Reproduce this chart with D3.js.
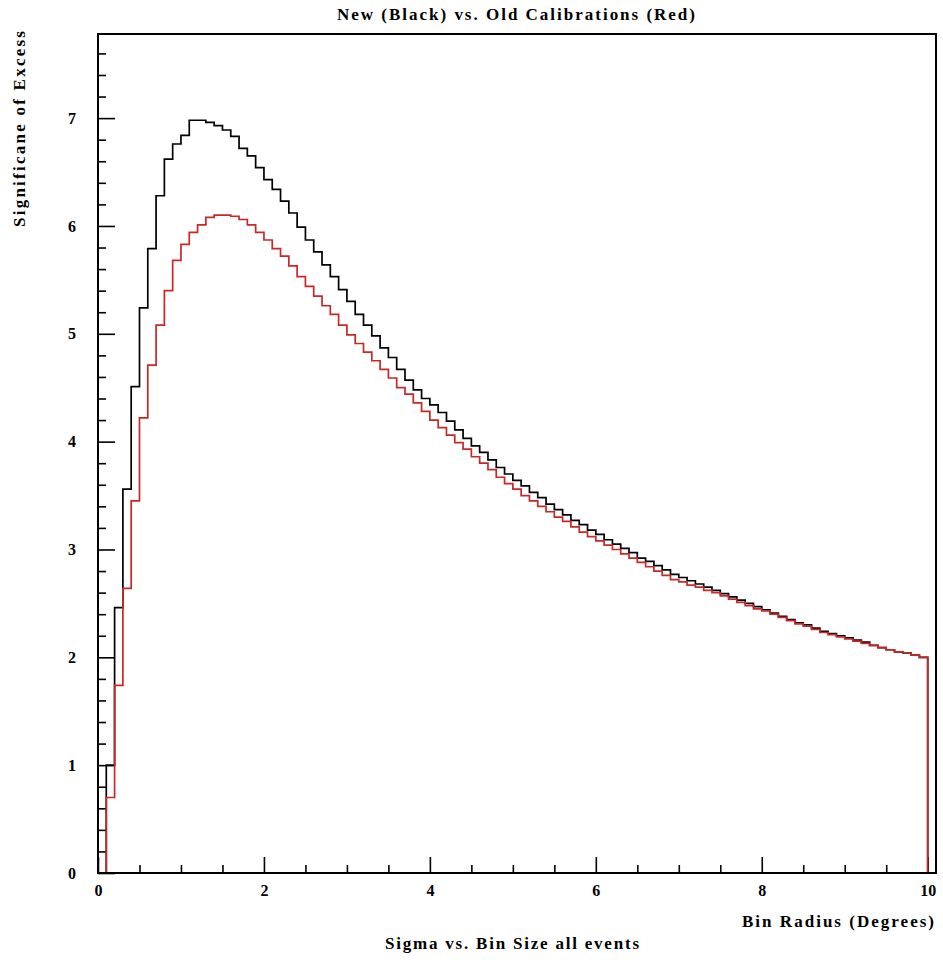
<!DOCTYPE html>
<html lang="en">
<head>
<meta charset="UTF-8">
<title>Sigma vs. Bin Size all events</title>
<script src="https://d3js.org/d3.v7.min.js"></script>
<style>
    body { margin: 0; background: #fff; }
    svg text { font-family: 'Liberation Serif', 'DejaVu Serif', serif; font-weight: bold; fill: #000; }
    .axis path { display: none; }
    .axis line { stroke: #000; stroke-width: 1.6; }
    .axis text { font-size: 16px; }
</style>
</head>
<body>
<div id="chart"></div>
<script>
    // histogram: 101 bins of 0.1 degrees from 0 to 10.1 (last bin empty)
    const binWidth = 0.1;

    // New calibration (black)
    const newCalib = [
        0, 1.00, 2.46, 3.56, 4.51, 5.24, 5.79, 6.28, 6.62, 6.76,
        6.84, 6.98, 6.98, 6.96, 6.93, 6.89, 6.83, 6.72, 6.65, 6.54,
        6.43, 6.34, 6.23, 6.12, 5.99, 5.87, 5.76, 5.64, 5.53, 5.41,
        5.30, 5.18, 5.08, 4.98, 4.87, 4.78, 4.67, 4.57, 4.48, 4.40,
        4.34, 4.27, 4.19, 4.11, 4.03, 3.96, 3.90, 3.83, 3.76, 3.70,
        3.64, 3.59, 3.53, 3.48, 3.42, 3.37, 3.32, 3.27, 3.23, 3.18,
        3.14, 3.09, 3.05, 3.01, 2.97, 2.92, 2.89, 2.85, 2.81, 2.77,
        2.74, 2.71, 2.68, 2.65, 2.62, 2.59, 2.56, 2.53, 2.50, 2.47,
        2.44, 2.41, 2.38, 2.35, 2.32, 2.30, 2.27, 2.24, 2.22, 2.20,
        2.18, 2.16, 2.14, 2.11, 2.09, 2.07, 2.05, 2.04, 2.02, 2.00,
        0
    ];

    // Old calibration (red)
    const oldCalib = [
        0, 0.70, 1.74, 2.64, 3.45, 4.22, 4.71, 5.08, 5.40, 5.68,
        5.83, 5.94, 6.01, 6.08, 6.10, 6.10, 6.09, 6.06, 6.01, 5.94,
        5.87, 5.79, 5.72, 5.63, 5.53, 5.44, 5.35, 5.26, 5.18, 5.08,
        4.99, 4.91, 4.83, 4.75, 4.67, 4.59, 4.50, 4.44, 4.36, 4.28,
        4.20, 4.13, 4.06, 3.99, 3.93, 3.86, 3.80, 3.74, 3.67, 3.61,
        3.56, 3.50, 3.45, 3.40, 3.35, 3.30, 3.26, 3.21, 3.16, 3.12,
        3.08, 3.04, 3.00, 2.96, 2.92, 2.88, 2.84, 2.80, 2.76, 2.72,
        2.70, 2.67, 2.65, 2.62, 2.60, 2.57, 2.54, 2.51, 2.48, 2.45,
        2.43, 2.40, 2.37, 2.34, 2.31, 2.29, 2.26, 2.23, 2.21, 2.19,
        2.17, 2.15, 2.13, 2.11, 2.09, 2.07, 2.05, 2.04, 2.02, 2.00,
        0
    ];

    const xMajorTicks = [0, 2, 4, 6, 8, 10];
    const xMinorTicks = [0.5, 1, 1.5, 2.5, 3, 3.5, 4.5, 5, 5.5, 6.5, 7, 7.5, 8.5, 9, 9.5];
    const yMajorTicks = [0, 1, 2, 3, 4, 5, 6, 7];
    const yMinorTicks = d3.range(0.2, 7.75, 0.2).filter(v => Math.abs(v - Math.round(v)) > 0.01);

    const width = 943;
    const height = 960;
    const plotLeft = 98, plotRight = 936, plotTop = 34, plotBottom = 873;

    const x = d3.scaleLinear().domain([0, 10.1]).range([plotLeft, plotRight]);
    const y = d3.scaleLinear().domain([0, 7.78]).range([plotBottom, plotTop]);

    const svg = d3.select('#chart')
        .append('svg')
        .attr('width', width)
        .attr('height', height);

    svg.append('rect')
        .attr('width', width)
        .attr('height', height)
        .attr('fill', '#fff');

    // axes: ticks point inwards
    svg.append('g')
        .attr('class', 'axis')
        .attr('transform', `translate(0,${plotBottom})`)
        .call(d3.axisBottom(x).tickValues(xMinorTicks).tickSize(-8).tickFormat(''));

    svg.append('g')
        .attr('class', 'axis')
        .attr('transform', `translate(0,${plotBottom})`)
        .call(d3.axisBottom(x).tickValues(xMajorTicks).tickSize(-16).tickPadding(12).tickFormat(d3.format('d')));

    svg.append('g')
        .attr('class', 'axis')
        .attr('transform', `translate(${plotLeft},0)`)
        .call(d3.axisLeft(y).tickValues(yMinorTicks).tickSize(-8).tickFormat(''));

    svg.append('g')
        .attr('class', 'axis')
        .attr('transform', `translate(${plotLeft},0)`)
        .call(d3.axisLeft(y).tickValues(yMajorTicks).tickSize(-17).tickPadding(22).tickFormat(d3.format('d')));

    // step outline of a histogram
    const step = d3.line()
        .x(d => x(d[0]))
        .y(d => y(d[1]))
        .curve(d3.curveStepAfter);

    function outline(values) {
        const pts = values.map((v, i) => [i * binWidth, v]);
        pts.push([values.length * binWidth, values[values.length - 1]]);
        return pts;
    }

    svg.append('path')
        .attr('d', step(outline(newCalib)))
        .attr('fill', 'none')
        .attr('stroke', '#000')
        .attr('stroke-width', 1.7);

    svg.append('path')
        .attr('d', step(outline(oldCalib)))
        .attr('fill', 'none')
        .attr('stroke', '#c82828')
        .attr('stroke-width', 1.7);

    // frame
    svg.append('rect')
        .attr('x', plotLeft)
        .attr('y', plotTop)
        .attr('width', plotRight - plotLeft)
        .attr('height', plotBottom - plotTop)
        .attr('fill', 'none')
        .attr('stroke', '#000')
        .attr('stroke-width', 2);

    // texts
    svg.append('text')
        .attr('x', 516)
        .attr('y', 20)
        .attr('text-anchor', 'middle')
        .style('font-size', '17px')
        .attr('textLength', 358)
        .text('New (Black) vs. Old Calibrations (Red)');

    svg.append('text')
        .attr('transform', 'translate(25,129) rotate(-90)')
        .attr('text-anchor', 'middle')
        .style('font-size', '17px')
        .attr('textLength', 196)
        .text('Significane of Excess');

    svg.append('text')
        .attr('x', 934)
        .attr('y', 927)
        .attr('text-anchor', 'end')
        .style('font-size', '17px')
        .attr('textLength', 192)
        .text('Bin Radius (Degrees)');

    svg.append('text')
        .attr('x', 512)
        .attr('y', 949)
        .attr('text-anchor', 'middle')
        .style('font-size', '17px')
        .attr('textLength', 254)
        .text('Sigma vs. Bin Size all events');
</script>
</body>
</html>
